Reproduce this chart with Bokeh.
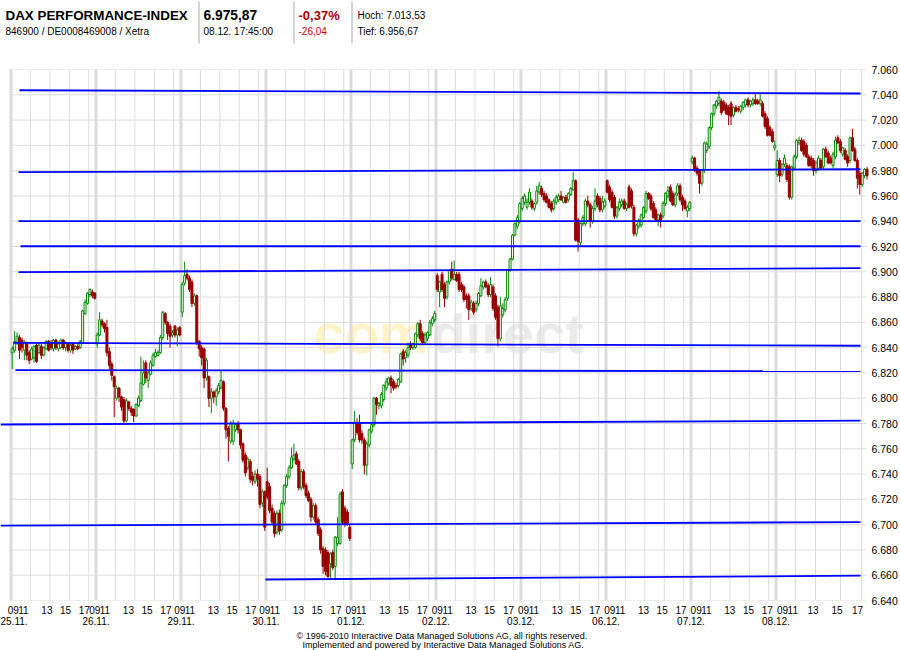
from bokeh.plotting import figure
from bokeh.layouts import column
from bokeh.models import Range1d, LinearAxis, FixedTicker, ColumnDataSource
from bokeh.embed import file_html
from bokeh.resources import INLINE
from bokeh.core.properties import value

# ---------------- data ----------------
day_labels = ["25.11.", "26.11.", "29.11.", "30.11.", "01.12.",
              "02.12.", "03.12.", "06.12.", "07.12.", "08.12."]
hour_labels = ["09", "11", "13", "15", "17"]
price_ticks = list(range(6640, 7061, 20))

# 15-minute candles per day
day_counts = [35, 35, 35, 35, 35, 35, 35, 35, 35, 38]

# (open, high, low, close) per candle, day by day
ohlc = [
    # 25.11.
    (6836,6841,6823,6839),(6838,6853,6836,6845),(6844,6852,6842,6849),(6848,6850,6831,6838),
    (6846,6848,6836,6840),(6838,6846,6830,6844),(6843,6845,6830,6834),(6836,6838,6827,6830),
    (6831,6841,6830,6839),(6832,6842,6828,6841),(6842,6844,6828,6829),(6836,6844,6835,6842),
    (6841,6843,6831,6834),(6834,6841,6833,6840),(6839,6846,6838,6845),(6845,6846,6837,6838),
    (6843,6846,6838,6840),(6839,6847,6837,6846),(6846,6847,6838,6840),(6839,6845,6837,6843),
    (6840,6847,6839,6846),(6846,6847,6838,6840),(6840,6845,6837,6844),(6843,6844,6836,6838),
    (6838,6843,6836,6842),(6843,6844,6835,6838),(6839,6842,6838,6841),(6841,6843,6838,6839),
    (6840,6846,6839,6845),(6844,6870,6843,6869),(6867,6878,6866,6876),(6875,6884,6874,6883),
    (6882,6887,6880,6886),(6884,6886,6879,6881),(6883,6884,6878,6879),
    # 26.11.
    (6843,6852,6840,6850),(6850,6868,6849,6862),(6861,6863,6856,6858),(6859,6860,6852,6855),
    (6856,6862,6833,6836),(6837,6840,6823,6826),(6827,6829,6814,6818),(6817,6818,6785,6809),
    (6800,6810,6798,6808),(6808,6809,6797,6801),(6801,6802,6790,6793),(6799,6801,6779,6782),
    (6782,6800,6781,6798),(6797,6798,6790,6792),(6792,6794,6786,6789),(6791,6792,6781,6786),
    (6786,6796,6785,6795),(6794,6802,6793,6800),(6798,6833,6797,6812),(6811,6830,6810,6820),
    (6828,6830,6812,6816),(6814,6822,6808,6820),(6819,6830,6818,6828),(6826,6836,6825,6834),
    (6833,6839,6832,6836),(6834,6838,6833,6836),(6836,6850,6835,6848),(6848,6869,6846,6868),
    (6867,6868,6858,6860),(6860,6861,6846,6851),(6857,6859,6840,6849),(6850,6854,6848,6852),
    (6857,6858,6848,6850),(6850,6856,6841,6854),(6856,6857,6849,6850),
    # 29.11.
    (6868,6892,6864,6890),(6891,6908,6889,6897),(6898,6902,6893,6895),(6895,6897,6884,6886),
    (6892,6894,6872,6875),(6875,6883,6873,6881),(6881,6882,6842,6844),(6845,6846,6833,6839),
    (6840,6842,6826,6832),(6839,6840,6808,6816),(6816,6832,6814,6830),(6817,6818,6793,6800),
    (6800,6808,6788,6805),(6805,6806,6796,6801),(6801,6808,6794,6806),(6805,6812,6803,6810),
    (6808,6822,6807,6814),(6813,6814,6790,6792),(6792,6793,6768,6775),(6776,6778,6750,6770),
    (6766,6782,6764,6780),(6766,6783,6763,6780),(6775,6780,6773,6779),(6780,6782,6772,6775),
    (6775,6776,6760,6763),(6764,6765,6749,6751),(6755,6757,6738,6741),(6745,6754,6743,6752),
    (6750,6752,6733,6736),(6738,6742,6731,6735),(6734,6743,6732,6740),(6740,6744,6730,6736),
    (6738,6740,6713,6716),(6717,6728,6714,6726),(6726,6727,6695,6698),
    # 30.11.
    (6734,6745,6720,6722),(6730,6733,6709,6711),(6713,6716,6700,6702),(6709,6711,6690,6693),
    (6694,6711,6692,6709),(6709,6712,6692,6695),(6696,6719,6694,6717),(6717,6732,6715,6731),
    (6731,6740,6729,6738),(6738,6747,6736,6745),(6745,6761,6744,6753),(6752,6764,6750,6755),
    (6756,6758,6747,6748),(6750,6752,6727,6729),(6729,6744,6727,6742),(6742,6744,6728,6730),
    (6731,6733,6721,6723),(6725,6727,6718,6719),(6720,6722,6702,6706),(6706,6717,6704,6715),
    (6715,6717,6700,6702),(6704,6706,6691,6693),(6696,6698,6677,6680),(6681,6683,6661,6667),
    (6680,6682,6660,6663),(6678,6680,6658,6659),(6669,6678,6657,6677),(6678,6680,6664,6666),
    (6667,6691,6656,6690),(6685,6706,6683,6690),(6685,6726,6684,6724),(6726,6728,6700,6702),
    (6713,6715,6698,6700),(6710,6712,6699,6701),(6698,6700,6687,6689),
    # 01.12.
    (6748,6768,6744,6767),(6767,6790,6765,6781),(6780,6784,6771,6773),(6781,6787,6765,6767),
    (6772,6775,6764,6767),(6767,6769,6740,6747),(6747,6766,6739,6764),(6763,6776,6761,6775),
    (6774,6780,6772,6779),(6779,6801,6777,6800),(6800,6801,6787,6795),(6794,6797,6791,6796),
    (6794,6805,6792,6803),(6799,6811,6797,6810),(6808,6816,6806,6813),(6812,6817,6810,6816),
    (6816,6818,6804,6810),(6813,6815,6806,6808),(6810,6812,6807,6809),(6810,6816,6808,6815),
    (6813,6836,6812,6835),(6837,6839,6826,6831),(6832,6838,6828,6836),(6834,6844,6832,6840),
    (6843,6845,6838,6840),(6840,6844,6838,6843),(6840,6852,6839,6851),(6850,6860,6848,6859),
    (6859,6862,6845,6847),(6851,6853,6842,6844),(6844,6852,6842,6850),(6847,6853,6845,6852),
    (6850,6862,6849,6860),(6859,6865,6857,6863),(6862,6869,6860,6867),
    # 02.12.
    (6897,6899,6884,6886),(6884,6893,6872,6892),(6898,6900,6884,6886),(6890,6892,6872,6879),
    (6880,6893,6878,6892),(6892,6902,6890,6901),(6902,6908,6893,6895),(6894,6909,6893,6898),
    (6898,6900,6892,6893),(6898,6900,6884,6886),(6890,6892,6884,6886),(6888,6890,6876,6878),
    (6881,6883,6871,6878),(6881,6883,6862,6870),(6871,6878,6869,6876),(6875,6877,6866,6868),
    (6870,6877,6868,6875),(6875,6884,6873,6883),(6881,6895,6880,6889),(6888,6893,6886,6892),
    (6892,6894,6887,6888),(6889,6891,6880,6882),(6882,6896,6880,6890),(6888,6890,6869,6871),
    (6881,6883,6862,6864),(6872,6874,6841,6847),(6847,6880,6845,6873),(6866,6875,6864,6871),
    (6870,6880,6868,6878),(6879,6902,6877,6901),(6901,6911,6900,6910),(6910,6930,6909,6929),
    (6929,6939,6928,6938),(6936,6945,6934,6943),(6940,6955,6938,6954),
    # 03.12.
    (6950,6960,6948,6958),(6955,6962,6953,6960),(6951,6958,6949,6955),(6955,6966,6953,6963),
    (6956,6958,6949,6951),(6950,6955,6948,6954),(6955,6968,6953,6964),(6963,6971,6961,6968),
    (6966,6968,6959,6961),(6962,6964,6955,6957),(6960,6962,6954,6955),(6957,6958,6950,6951),
    (6954,6956,6947,6949),(6950,6958,6948,6956),(6955,6961,6953,6959),(6957,6962,6955,6960),
    (6960,6964,6956,6957),(6955,6960,6954,6959),(6959,6961,6954,6955),(6957,6963,6955,6962),
    (6961,6967,6960,6966),(6965,6979,6964,6972),(6972,6973,6924,6925),(6941,6943,6916,6924),
    (6923,6939,6920,6938),(6938,6945,6936,6943),(6938,6958,6936,6956),(6956,6960,6951,6953),
    (6953,6955,6935,6940),(6940,6952,6938,6950),(6950,6966,6948,6956),(6960,6962,6951,6953),
    (6958,6960,6947,6949),(6949,6960,6947,6955),(6952,6958,6950,6956),
    # 06.12.
    (6972,6973,6962,6963),(6967,6969,6955,6957),(6963,6965,6950,6951),(6959,6961,6942,6944),
    (6944,6952,6942,6951),(6950,6958,6948,6955),(6953,6958,6951,6956),(6956,6958,6949,6950),
    (6950,6955,6948,6953),(6967,6969,6950,6951),(6964,6966,6950,6952),(6951,6953,6928,6930),
    (6930,6938,6928,6937),(6936,6942,6934,6941),(6937,6946,6935,6945),(6943,6952,6942,6951),
    (6948,6964,6946,6962),(6962,6963,6957,6958),(6960,6962,6948,6950),(6954,6956,6942,6943),
    (6949,6951,6940,6941),(6941,6946,6936,6945),(6945,6947,6935,6940),(6944,6956,6942,6954),
    (6954,6963,6952,6962),(6960,6968,6958,6964),(6967,6969,6955,6956),(6962,6964,6952,6953),
    (6953,6963,6951,6961),(6962,6970,6960,6968),(6968,6970,6955,6957),(6959,6961,6948,6953),
    (6956,6958,6949,6950),(6948,6953,6943,6951),(6950,6956,6948,6955),
    # 07.12.
    (6987,6992,6985,6990),(6990,6991,6979,6980),(6982,6984,6976,6978),(6980,6981,6962,6970),
    (6970,6981,6968,6980),(6980,7003,6978,7002),(6996,7003,6994,7001),(6999,7015,6997,7014),
    (7014,7026,7012,7025),(7025,7033,7023,7032),(7031,7036,7029,7035),(7033,7043,7031,7038),
    (7035,7037,7024,7026),(7034,7036,7027,7028),(7032,7034,7024,7025),(7030,7032,7016,7024),
    (7033,7035,7016,7023),(7024,7031,7022,7030),(7030,7032,7026,7027),(7029,7031,7026,7028),
    (7027,7032,7025,7031),(7030,7035,7028,7034),(7032,7037,7030,7036),(7036,7038,7030,7032),
    (7032,7036,7030,7035),(7033,7038,7031,7036),(7036,7042,7032,7033),(7035,7037,7032,7033),
    (7033,7042,7031,7036),(7033,7035,7022,7023),(7025,7027,7013,7015),(7021,7023,7007,7008),
    (7014,7016,7007,7008),(7011,7013,7002,7003),(6998,7004,6996,7000),
    # 08.12.
    (6977,6996,6975,6988),(6988,6990,6971,6976),(6977,6986,6975,6985),(6985,6993,6983,6990),
    (6984,6986,6971,6973),(6983,6985,6957,6959),(6959,6984,6957,6983),(6982,6993,6980,6991),
    (6991,7005,6989,7004),(7002,7007,7000,7004),(7004,7006,6995,6996),(7003,7005,6991,6993),
    (7000,7002,6990,6991),(6991,6993,6983,6984),(6990,6992,6982,6984),(6988,6990,6976,6980),
    (6980,6988,6978,6986),(6982,6992,6980,6990),(6988,6990,6981,6982),(6983,6998,6981,6997),
    (6997,6999,6990,6991),(6994,6996,6985,6986),(6990,6992,6985,6986),(6984,6995,6982,6993),
    (6991,7007,6989,7004),(7006,7008,7001,7002),(7003,7005,6994,6996),(6993,6999,6991,6998),
    (6996,6998,6988,6989),(6991,6993,6983,6986),(6988,7007,6986,7006),(7006,7013,6995,6996),
    (6997,6999,6987,6988),(6988,6990,6966,6974),(6978,6980,6961,6969),(6969,6979,6967,6978),
    (6976,6982,6974,6981),(6981,6983,6973,6976),
]

# support / resistance lines: start hour, end hour, start level, end level
line_x0 = [0.87, 0.77, 0.77, 0.98, 0.77, 0.26, 0.46, -1.08, -1.08, 26.2]
line_x1 = [87.45] * 10
line_y0 = [7043.6, 6978.8, 6940.0, 6920.2, 6899.7, 6843.8, 6822.2, 6779.2, 6699.2, 6656.6]
line_y1 = [7041.0, 6981.1, 6940.0, 6920.2, 6902.9, 6841.5, 6821.4, 6782.2, 6702.0, 6659.6]

# header / footer texts
title = "DAX PERFORMANCE-INDEX"
ident = "846900 / DE0008469008 / Xetra"
last_price = "6.975,87"
last_time = "08.12. 17:45:00"
chg_pct = "-0,37%"
chg_abs = "-26,04"
day_high = "Hoch: 7.013,53"
day_low = "Tief: 6.956,67"
copy1 = "\u00a9 1996-2010 Interactive Data Managed Solutions AG, all rights reserved."
copy2 = "Implemented and powered by Interactive Data Managed Solutions AG."

# ---------------- geometry / styles ----------------
DAY = 8.75          # hours shown per day (09:00 - 17:45)
SLOT = 0.25         # 15 minutes
PXH = 9.714         # pixels per hour
FRAME_W, FRAME_H = 869, 531
RIGHT_B = 900 - FRAME_W
HDR_H, FTR_H = 62, 20
MAIN_H = 650 - HDR_H - FTR_H
X0 = -10.5 / PXH
X1 = X0 + FRAME_W / PXH
FONT = "Liberation Sans"
GRID = "#dcdcdc"
UP = "#008a00"
DOWN = "#990000"

# hour grid lines (hours after each day's start); the last day is drawn wider
grid_hours = [[2, 4, 6, 8]] * 9 + [[2.01, 4.07, 6.64, 8.80]]
# hour label positions, pixels after each day's start
label_px = []
for d in range(10):
    if d == 9:
        label_px.append([6.5, 16.8, 37.0, 61.0, 81.5])
    else:
        drift = 3.5 if d == 0 else max(0, d - 3) * 1.3
        label_px.append([v + drift for v in (-1.3, 9.0, 32.4, 51.0, 69.9)])


def blank(height):
    # frame spans canvas x 0..FRAME_W (aligned with the chart below); 1 unit = 1 px
    f = figure(width=900, height=height, output_backend="svg", toolbar_location=None,
               x_range=Range1d(0, FRAME_W), y_range=Range1d(height, 0),
               x_axis_location=None, y_axis_location=None,
               min_border_left=0, min_border_right=RIGHT_B,
               min_border_top=0, min_border_bottom=0,
               outline_line_color=None, background_fill_color="white",
               border_fill_color="white")
    f.xgrid.visible = False
    f.ygrid.visible = False
    return f


def txt(f, s, x, y, size, bold=False, color="black"):
    f.text(x=[x], y=[y], text=[s], text_font=value(FONT), text_font_size=size,
           text_font_style="bold" if bold else "normal", text_color=color,
           text_baseline="alphabetic", text_align="left")


# ---------- header ----------
hdr = blank(HDR_H)
R1, R2 = 14.5, 30.5
txt(hdr, title, 5, R1, "13.4px", True)
txt(hdr, ident, 5, R2, "10px")
txt(hdr, last_price, 203, R1, "13.8px", True)
txt(hdr, last_time, 203, R2, "10px")
txt(hdr, chg_pct, 298, R1, "13px", True, "#a80000")
txt(hdr, chg_abs, 298, R2, "10px", False, "#cc0000")
txt(hdr, day_high, 357, R1, "10px")
txt(hdr, day_low, 357, R2, "10px")
hdr.segment(x0=[198.5, 293.5, 351.5], x1=[198.5, 293.5, 351.5], y0=[1] * 3, y1=[43] * 3,
            line_color="#a8a8a8", line_width=1)

# ---------- footer ----------
ftr = blank(FTR_H)
txt(ftr, copy1, 296, 5, "9px")
txt(ftr, copy2, 302, 14, "9px")

# ---------- main chart ----------
xs, o, h, l, c = [], [], [], [], []
i = 0
for d, n in enumerate(day_counts):
    for k in range(n):
        xs.append(d * DAY + (k + 0.5) * SLOT)
        oo, hh, ll, cc = ohlc[i]
        o.append(oo); h.append(hh); l.append(ll); c.append(cc)
        i += 1

up_idx = [j for j in range(len(xs)) if c[j] >= o[j]]
dn_idx = [j for j in range(len(xs)) if c[j] < o[j]]


def sub(idx):
    return ColumnDataSource(dict(
        x=[xs[j] for j in idx], high=[h[j] for j in idx], low=[l[j] for j in idx],
        top=[max(o[j], c[j]) for j in idx], bottom=[min(o[j], c[j]) for j in idx]))


src_up, src_dn = sub(up_idx), sub(dn_idx)

top_b = 69 - HDR_H
p = figure(width=900, height=MAIN_H, output_backend="svg", toolbar_location=None,
           x_range=Range1d(X0, X1), y_range=Range1d(6640, 7060),
           x_axis_location=None, y_axis_location=None,
           min_border_left=0, min_border_right=RIGHT_B,
           min_border_top=top_b, min_border_bottom=MAIN_H - top_b - FRAME_H,
           outline_line_color=None, background_fill_color="white",
           border_fill_color="white")
p.xgrid.visible = False
p.ygrid.visible = False

# watermark
p.text(x=[(313 - 10.5) / PXH], y=[6851], text=["com"], text_font=value(FONT),
       text_font_style="bold", text_font_size="56px", text_color="#fff3c8",
       text_baseline="alphabetic")
p.text(x=[(431 - 10.5) / PXH], y=[6851], text=["direct"], text_font=value(FONT),
       text_font_style="bold", text_font_size="56px", text_color="#ebebeb",
       text_baseline="alphabetic")

# grid
gx_end = (866 - 10.5) / PXH
gx_start = (9 - 10.5) / PXH
p.segment(x0=[gx_start] * len(price_ticks), x1=[gx_end] * len(price_ticks),
          y0=price_ticks, y1=price_ticks, line_color=GRID, line_width=1)
thin = [d * DAY + hh for d in range(len(day_labels)) for hh in grid_hours[d]]
thick = [d * DAY for d in range(len(day_labels))]
p.segment(x0=thin, x1=thin, y0=[6640] * len(thin), y1=[7060] * len(thin),
          line_color=GRID, line_width=1)
p.segment(x0=thick, x1=thick, y0=[6640] * len(thick), y1=[7060] * len(thick),
          line_color=GRID, line_width=3)

# candles
bw = 2 / PXH
p.segment(x0="x", x1="x", y0="low", y1="high", source=src_up, line_color=UP, line_width=1)
p.segment(x0="x", x1="x", y0="low", y1="high", source=src_dn, line_color=DOWN, line_width=1)
p.vbar(x="x", width=bw, top="top", bottom="bottom", source=src_up,
       fill_color="white", line_color=UP, line_width=1)
p.vbar(x="x", width=bw, top="top", bottom="bottom", source=src_dn,
       fill_color=DOWN, line_color=DOWN, line_width=1)

# support / resistance lines
p.segment(x0=line_x0, x1=line_x1, y0=line_y0, y1=line_y1, line_color="#0000ff",
          line_width=1.8)

# axes
yax = LinearAxis(ticker=FixedTicker(ticks=price_ticks),
                 major_label_overrides={v: f"{v // 1000}.{v % 1000:03d}" for v in price_ticks})
hticks, hover = [], {}
for d in range(len(day_labels)):
    for labl, px in zip(hour_labels, label_px[d]):
        t = round(d * DAY + px / PXH, 4)
        hticks.append(t)
        hover[t] = labl
xax = LinearAxis(ticker=FixedTicker(ticks=hticks), major_label_overrides=hover)
dax = LinearAxis(ticker=FixedTicker(ticks=thick),
                 major_label_overrides={t: lab for t, lab in zip(thick, day_labels)})
for ax in (yax, xax, dax):
    ax.axis_line_color = None
    ax.major_tick_line_color = None
    ax.minor_tick_line_color = None
    ax.major_tick_out = 0
    ax.major_tick_in = 0
    ax.major_label_text_font = FONT
    ax.major_label_text_color = "black"
yax.major_label_text_font_size = "10.5px"
yax.major_label_standoff = 2
xax.major_label_text_font_size = "10px"
xax.major_label_standoff = 5
dax.major_label_text_font_size = "10px"
dax.major_label_standoff = 0
dax.major_label_text_align = "left"
p.add_layout(yax, "right")
p.add_layout(xax, "below")
p.add_layout(dax, "below")

page = column(hdr, p, ftr, spacing=0)
open("out.html", "w").write(file_html(page, INLINE))
